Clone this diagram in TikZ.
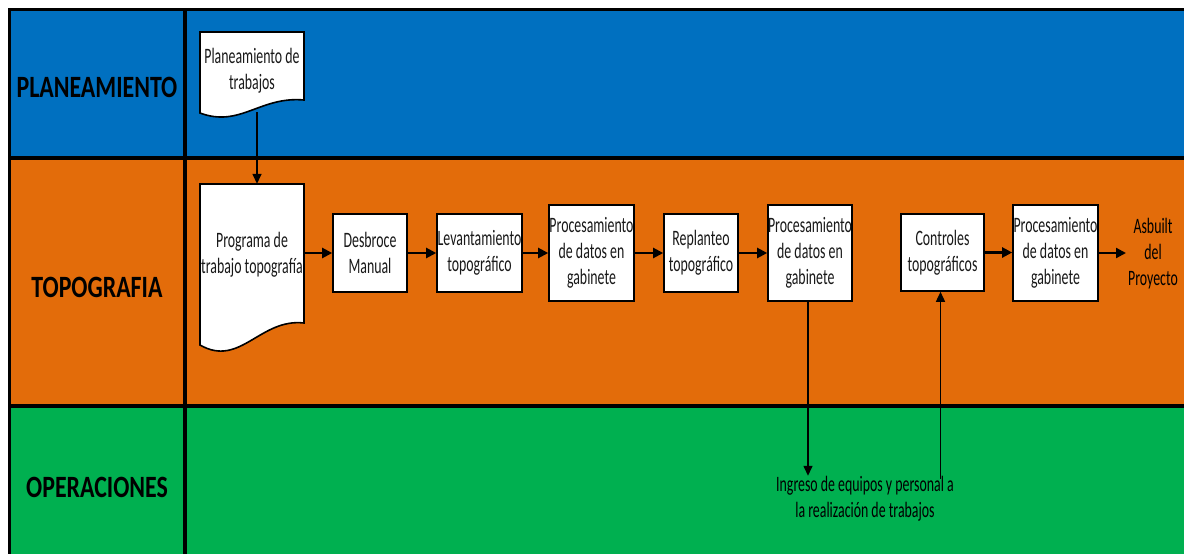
\documentclass[tikz,border=0pt]{standalone}
\usepackage{fontspec}
\setmainfont{Carlito}[FakeStretch=0.63]
\newfontfamily\lanefont{Carlito}[FakeStretch=0.77]
\usetikzlibrary{arrows.meta}
\definecolor{laneblue}{HTML}{0070C0}
\definecolor{laneorange}{HTML}{E36C0A}
\definecolor{lanegreen}{HTML}{00B050}
\tikzset{
  lanelabel/.style={font=\lanefont\fontsize{31}{36}\selectfont\bfseries, text=black},
  stepbox/.style={draw=black, line width=1.6, fill=white, align=center, inner sep=0pt,
    font=\fontsize{22}{26}\selectfont, text=black!90},
  doctext/.style={align=center, inner sep=0pt, font=\fontsize{22}{26}\selectfont, text=black!90},
  docshape/.style={draw=black, line width=1.6, fill=white},
  flow/.style={line width=2.2, -{Triangle[length=10pt,width=10pt]}},
  vflow/.style={line width=1.5, -{Triangle[length=10pt,width=9pt]}},
  divider/.style={line width=4, black},
}
\begin{document}
\begin{tikzpicture}[x=1pt,y=-1pt]
\useasboundingbox (0,0) rectangle (1184,554);
% swimlane backgrounds
\fill[laneblue] (9.5,9.5) rectangle (1184,157.5);
\fill[laneorange] (9.5,157.5) rectangle (1184,406);
\fill[lanegreen] (9.5,406) rectangle (1184,554);
% lane borders
\draw[line width=3] (1184,9.5) -- (9.5,9.5) -- (9.5,554);
\draw[divider] (185,9.5) -- (185,554);
\draw[divider] (9.5,157.5) -- (1184,157.5);
\draw[divider] (9.5,406) -- (1184,406);
% lane titles
\node[lanelabel] (lplan) at (97,87) {PLANEAMIENTO};
\node[lanelabel] (ltopo) at (97,287) {TOPOGRAFIA};
\node[lanelabel] (loper) at (97,487) {OPERACIONES};
% document shapes
\draw[docshape] (200,113) -- (200,32) -- (304,32) -- (304,100)
  .. controls (260,96) and (240,128) .. cycle;
\draw[docshape] (200,345) -- (200,184) -- (304,184) -- (304,323)
  .. controls (260,318) and (240,368) .. cycle;
\node[doctext, minimum width=104, minimum height=78] (plan) at (252,71) {Planeamiento de\\trabajos};
\node[doctext, minimum width=104, minimum height=142] (prog) at (252,255) {Programa de\\trabajo topografía};
% process steps
\node[stepbox, minimum width=74, minimum height=78] (desb) at (370,253) {Desbroce\\Manual};
\node[stepbox, minimum width=85, minimum height=78] (lev) at (479.5,253) {Levantamiento\\topográfico};
\node[stepbox, minimum width=85, minimum height=96] (proc1) at (591.5,253) {Procesamiento\\de datos en\\gabinete};
\node[stepbox, minimum width=74, minimum height=78] (repl) at (701,253) {Replanteo\\topográfico};
\node[stepbox, minimum width=84, minimum height=96] (proc2) at (810,253) {Procesamiento\\de datos en\\gabinete};
\node[stepbox, minimum width=83, minimum height=77] (ctrl) at (942.5,252.5) {Controles\\topográficos};
\node[stepbox, minimum width=85, minimum height=96] (proc3) at (1055.5,253) {Procesamiento\\de datos en\\gabinete};
\node[doctext, text=black, anchor=west, inner xsep=2pt] (asb) at (1126,254) {Asbuilt\\del\\Proyecto};
\node[doctext, text=black] (ing) at (865,498.5) {Ingreso de equipos y personal a\\la realización de trabajos};
% connectors
\draw[vflow] ([xshift=5,yshift=-2]plan.south) -- ([xshift=5]prog.north);
\draw[flow] (prog.east |- desb.west) -- (desb.west);
\draw[flow] (desb.east) -- (lev.west);
\draw[flow] (lev.east) -- (proc1.west);
\draw[flow] (proc1.east) -- (repl.west);
\draw[flow] (repl.east) -- (proc2.west);
\draw[flow] (ctrl.east) -- (ctrl.east -| proc3.west);
\draw[flow] (proc3.east) -- (proc3.east -| asb.west);
\draw[vflow] ([xshift=-2]proc2.south) -- ([xshift=-2]proc2.south |- ing.north);
\coordinate (ctrlfoot) at ([xshift=-2]ctrl.south |- ing.north);
\draw[vflow] ([yshift=-3]ctrlfoot) -- ([xshift=-2]ctrl.south);
\end{tikzpicture}
\end{document}
